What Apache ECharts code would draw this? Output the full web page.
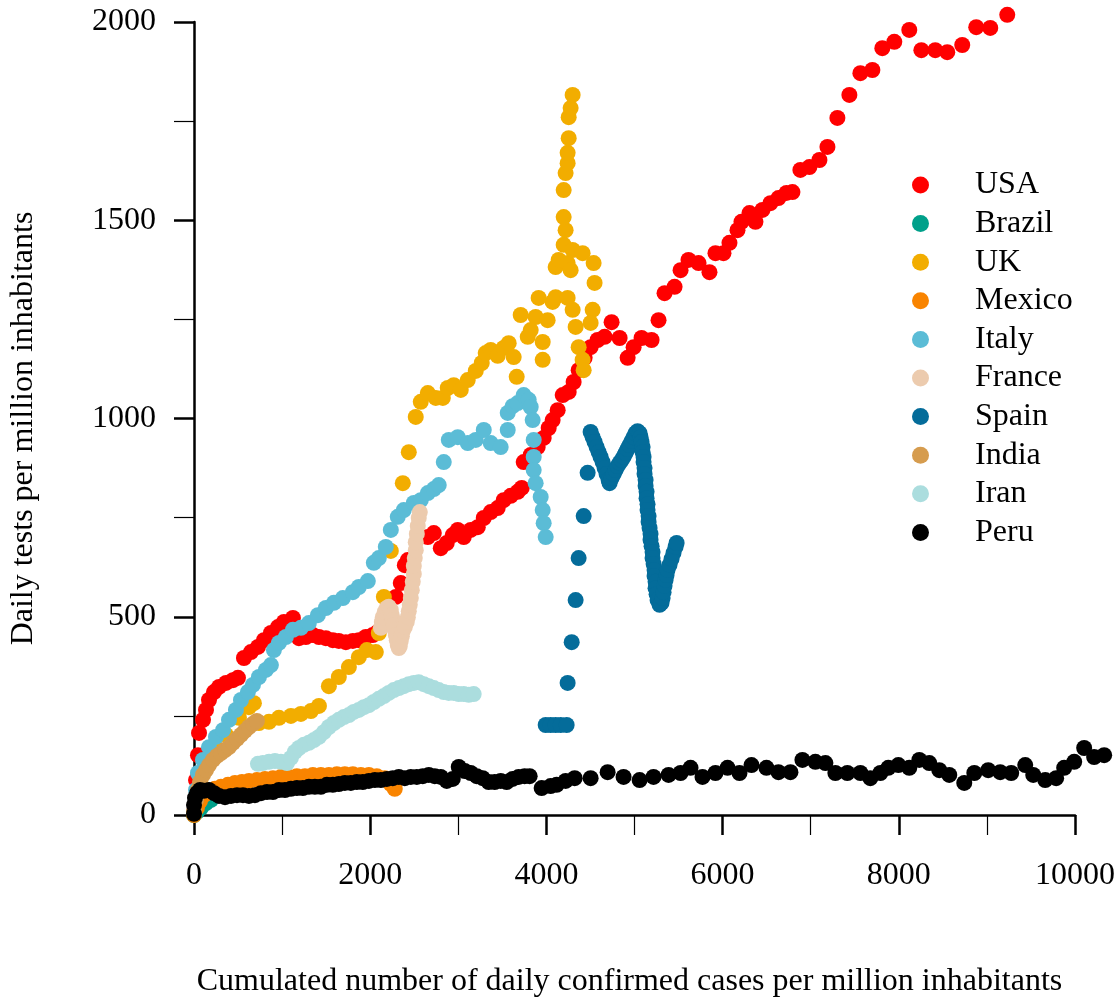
<!DOCTYPE html>
<html>
<head>
<meta charset="utf-8">
<script src="https://cdn.jsdelivr.net/npm/echarts@6/dist/echarts.min.js"></script>
<style>
html,body{margin:0;padding:0;background:#fff;}
#chart{width:1119px;height:1003px;}
</style>
</head>
<body>
<div id="chart"></div>
<script>
// ---- Data (x: cumulated cases per million, y: daily tests per million) ----
const countries = ['USA','Brazil','UK','Mexico','Italy','France','Spain','India','Iran','Peru'];
const colors = ['#FF0000','#00A08A','#F2AD00','#F98400','#5BBCD6','#ECCBAE','#046C9A','#D69C4E','#ABDDDE','#000000'];

const usa = [[0,8],[23,88],[45,151],[57,207],[102,240],[136,265],[170,290],[227,310],[284,323],[363,333],[442,340],[499,346],
[567,396],[646,411],[726,424],[794,441],[873,459],[953,474],[1021,487],[1123,497],[1191,446],[1270,449],[1349,454],[1418,449],
[1497,446],[1576,441],[1644,439],[1724,436],[1803,439],[1871,441],[1950,449],[2030,454],[2087,462],[2291,550],[2347,585],
[2393,630],[2427,643],[2654,701],[2722,711],[2801,673],[2869,686],[2937,706],[2994,719],[3062,701],[3141,719],[3221,726],
[3289,749],[3368,764],[3447,774],[3515,794],[3595,805],[3674,815],[3720,825],[3742,890],[3822,908],[3901,928],[3969,951],
[4026,976],[4071,996],[4128,1021],[4185,1059],[4253,1067],[4309,1092],[4366,1122],[4434,1153],[4502,1180],[4581,1198],
[4661,1206],[4740,1243],[4831,1203],[4922,1153],[4990,1180],[5080,1203],[5194,1198],[5273,1248],[5341,1316],[5455,1332],
[5523,1374],[5613,1400],[5727,1392],[5851,1369],[5919,1417],[6010,1417],[6078,1443],[6169,1475],[6214,1496],[6305,1518],
[6373,1496],[6452,1526],[6543,1543],[6634,1556],[6725,1569],[6793,1571],[6883,1627],[6985,1634],[7099,1652],[7190,1685],
[7303,1758],[7439,1816],[7564,1871],[7700,1879],[7813,1934],[7949,1950],[8119,1980],[8256,1929],[8414,1929],[8550,1924],
[8720,1942],[8879,1987],[9038,1985],[9231,2018]];

const brazil = [[0,0],[34,8],[79,18],[136,30],[193,38]];

const uk = [[23,25],[79,76],[159,126],[249,169],[363,202],[510,245],[624,272],[680,282],[737,232],[851,235],[964,245],
[1100,250],[1213,255],[1327,262],[1418,275],[1531,325],[1644,348],[1758,373],[1871,398],[1962,416],[2064,411],[2098,459],
[2155,550],[2234,666],[2370,837],[2438,915],[2517,1004],[2574,1042],[2654,1064],[2744,1052],[2824,1052],[2880,1077],
[2948,1084],[3028,1072],[3107,1097],[3198,1120],[3266,1140],[3311,1165],[3368,1173],[3447,1158],[3515,1178],[3572,1190],
[3629,1155],[3663,1105],[3708,1261],[3788,1206],[3822,1223],[3878,1256],[3912,1304],[3958,1193],[3958,1148],[4014,1248],
[4071,1294],[4105,1306],[4105,1382],[4139,1400],[4196,1438],[4218,1475],[4196,1508],[4196,1576],[4218,1619],[4241,1644],
[4241,1670],[4253,1707],[4253,1760],[4275,1783],[4298,1816],[4241,1392],[4275,1374],[4298,1425],[4411,1417],[4536,1392],
[4547,1342],[4241,1304],[4298,1274],[4332,1231],[4366,1180],[4411,1148],[4423,1122],[4525,1274],[4502,1241]];

const mexico = [[0,0],[34,18],[68,35],[113,50],[170,61],[238,66],[306,71],[386,76],[465,81],[544,83],[624,86],[714,88],
[805,91],[896,93],[987,96],[1077,96],[1168,98],[1259,98],[1349,101],[1440,101],[1531,101],[1622,103],[1712,103],[1803,103],
[1894,101],[1985,101],[2075,98],[2166,93],[2234,78],[2279,66]];

const italy = [[0,8],[23,63],[45,106],[102,139],[170,171],[249,197],[329,214],[397,240],[476,265],[533,290],[612,310],
[669,328],[737,348],[816,366],[873,378],[907,416],[964,434],[1043,449],[1123,467],[1213,472],[1304,484],[1406,504],
[1497,522],[1588,535],[1690,547],[1803,562],[1871,575],[1973,590],[2041,636],[2098,648],[2177,676],[2234,719],[2313,752],
[2381,769],[2495,787],[2574,794],[2654,812],[2722,822],[2778,832],[2835,890],[2892,946],[2994,953],[3107,938],[3198,946],
[3289,971],[3368,938],[3481,928],[3561,971],[3561,1014],[3617,1031],[3674,1039],[3742,1059],[3799,1047],[3822,1029],
[3844,996],[3856,946],[3856,903],[3856,870],[3878,837],[3935,802],[3958,769],[3969,736],[3992,701]];

const france = [[2121,472],[2132,487],[2143,499],[2166,512],[2189,522],[2211,525],[2234,517],[2245,504],[2257,492],
[2268,479],[2279,467],[2291,454],[2302,441],[2313,429],[2325,421],[2336,426],[2347,439],[2359,451],[2370,464],[2393,474],
[2415,487],[2427,499],[2438,514],[2449,530],[2461,547],[2472,567],[2483,588],[2495,608],[2495,628],[2506,648],[2517,668],
[2517,688],[2529,709],[2540,729],[2551,749],[2563,764]];

const spain = [[3992,227],[4048,227],[4105,227],[4162,227],[4230,227],[4241,333],[4287,436],[4332,542],[4366,648],
[4423,754],[4468,863],
[4502,966],[4525,953],[4547,941],[4570,928],[4593,915],[4615,903],[4638,890],[4661,875],[4683,860],[4706,845],[4717,837],
[4740,850],[4763,860],[4785,870],[4808,880],[4831,888],[4854,895],[4876,903],[4899,913],[4922,923],[4944,933],[4967,943],
[4990,953],[5012,963],[5035,968],[5058,963],[5069,953],[5080,941],[5092,928],[5092,915],[5103,903],[5103,890],[5114,875],
[5114,860],[5126,845],[5126,830],[5137,815],[5137,799],[5148,784],[5148,769],[5160,754],[5160,739],[5171,724],[5182,709],
[5182,694],[5194,678],[5205,663],[5205,648],[5217,633],[5228,618],[5228,603],[5239,588],[5239,572],[5251,557],[5262,542],
[5285,530],[5307,535],[5319,547],[5330,562],[5341,578],[5353,593],[5364,605],[5375,618],[5398,631],[5421,646],[5443,661],
[5466,676],[5478,686]];

const india = [[0,8],[23,38],[45,63],[68,83],[102,101],[136,113],[170,126],[215,139],[261,149],[306,156],[352,164],
[397,171],[442,182],[488,192],[533,202],[578,212],[624,222],[669,230],[714,237]];

const iran = [[726,129],[782,131],[851,134],[919,136],[987,134],[1055,131],[1100,144],[1145,159],[1191,169],[1247,177],
[1304,182],[1361,189],[1418,197],[1474,209],[1531,222],[1588,232],[1644,240],[1701,247],[1758,252],[1814,260],[1871,265],
[1928,272],[1985,277],[2041,285],[2098,293],[2155,300],[2211,308],[2268,315],[2325,320],[2381,325],[2438,330],[2495,333],
[2551,335],[2608,330],[2665,325],[2722,320],[2778,315],[2835,310],[2892,308],[2948,308],[3005,305],[3062,305],[3119,303],
[3175,305]];

const peru = [[0,3],[0,25],[11,43],[34,55],[68,63],[113,61],[170,63],[227,55],[284,48],[352,45],[420,48],[488,50],[556,50],
[624,48],[692,50],[760,55],[828,58],[896,58],[964,63],[1032,63],[1100,66],[1168,68],[1236,68],[1304,71],[1372,71],[1440,71],
[1508,76],[1576,76],[1644,78],[1712,81],[1780,81],[1848,83],[1916,83],[1985,86],[2053,88],[2121,88],[2189,91],[2257,93],
[2325,96],[2393,93],[2461,96],[2529,96],[2597,98],[2665,101],[2733,98],[2801,96],[2869,86],[2937,91],[3005,121],[3073,111],
[3141,106],[3209,98],[3277,93],[3345,83],[3413,83],[3481,86],[3549,83],[3617,91],[3685,96],[3753,98],[3810,98],[3946,68],
[4048,73],[4116,76],[4218,86],[4321,93],[4502,93],[4695,108],[4876,96],[5058,88],[5216,96],[5387,101],[5523,106],[5636,119],
[5772,96],[5919,106],[6056,119],[6192,106],[6328,126],[6498,119],[6634,108],[6770,108],[6906,139],[7053,134],[7167,131],
[7280,106],[7416,106],[7564,106],[7677,93],[7791,106],[7881,119],[7995,126],[8119,119],[8233,139],[8346,131],[8460,113],
[8573,101],[8743,81],[8857,106],[9015,113],[9151,108],[9276,106],[9435,126],[9526,101],[9662,88],[9786,93],[9877,119],
[9991,134],[10104,169],[10217,146],[10331,151]];

const seriesData = [usa, brazil, uk, mexico, italy, france, spain, india, iran, peru];

const xTitle = 'Cumulated number of daily confirmed cases per million inhabitants';
const yTitle = 'Daily tests per million inhabitants';

const FONT = '"Liberation Serif", "Times New Roman", serif';
const FS = 32;

const chart = echarts.init(document.getElementById('chart'), null, {renderer: 'canvas'});

const axisCommon = {
  type: 'value',
  splitLine: {show: false},
  axisLine: {show: true, onZero: false, lineStyle: {color: '#000', width: 2.5}},
  axisTick: {show: true, inside: false, length: 20, lineStyle: {color: '#000', width: 2.5}},
  minorTick: {show: true, splitNumber: 2, length: 20, lineStyle: {color: '#000', width: 1.2}},
  minorSplitLine: {show: false},
  nameLocation: 'middle'
};

const plain = v => String(v);

chart.setOption({
  animation: false,
  backgroundColor: '#fff',
  grid: {left: 193, right: 44, top: 22, bottom: 188, containLabel: false},
  legend: {
    orient: 'vertical',
    left: 907,
    top: 164,
    itemWidth: 17,
    itemHeight: 17,
    itemGap: 6.6,
    icon: 'circle',
    data: countries,
    selectedMode: false,
    textStyle: {fontFamily: FONT, fontSize: FS, color: '#000', lineHeight: 32, padding: [0, 0, 0, 41]}
  },
  xAxis: Object.assign({}, axisCommon, {
    min: 0, max: 10000, interval: 2000,
    name: xTitle, nameGap: 151,
    nameTextStyle: {fontFamily: FONT, fontSize: FS, color: '#000', padding: [0, 10, 0, 0]},
    axisLabel: {margin: 45, fontFamily: FONT, fontSize: FS, color: '#000', formatter: plain}
  }),
  yAxis: Object.assign({}, axisCommon, {
    min: 0, max: 2000, interval: 500,
    name: yTitle, nameGap: 154,
    nameTextStyle: {fontFamily: FONT, fontSize: FS, color: '#000', padding: [0, 20, 0, 0]},
    axisLabel: {margin: 38, fontFamily: FONT, fontSize: FS, color: '#000', formatter: plain}
  }),
  series: countries.map((c, i) => ({
    name: c,
    type: 'scatter',
    data: seriesData[i],
    symbol: 'circle',
    symbolSize: 16,
    clip: false,
    itemStyle: {color: colors[i], opacity: 1},
    emphasis: {disabled: true},
    z: 2 + i
  }))
});
</script>
</body>
</html>
